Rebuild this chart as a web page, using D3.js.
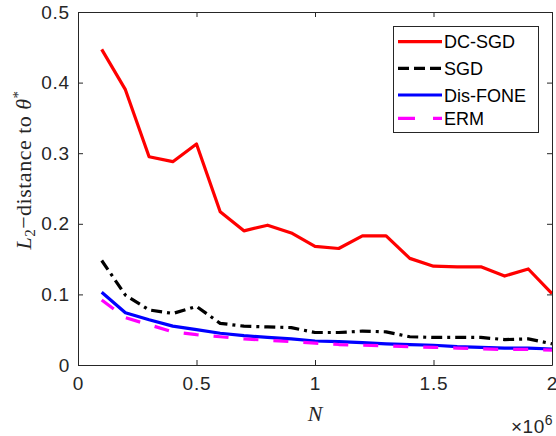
<!DOCTYPE html>
<html>
<head>
<meta charset="utf-8">
<script src="https://cdn.jsdelivr.net/npm/d3@7"></script>
<style>
body { margin: 0; background: #fff; }
svg { display: block; }
</style>
</head>
<body>
<svg id="canvas" width="556" height="436"></svg>
<script>
// sample sizes, in units of 1e6
let nvals = [0.1, 0.2, 0.3, 0.4, 0.5, 0.6, 0.7, 0.8, 0.9, 1.0,
             1.1, 1.2, 1.3, 1.4, 1.5, 1.6, 1.7, 1.8, 1.9, 2.0]

let dcsgd = [0.447, 0.390, 0.295, 0.288, 0.313, 0.217, 0.190, 0.198, 0.187, 0.168,
             0.165, 0.183, 0.183, 0.151, 0.140, 0.139, 0.139, 0.126, 0.136, 0.101]
let sgd = [0.148, 0.099, 0.078, 0.073, 0.083, 0.059, 0.055, 0.054, 0.053, 0.046,
           0.046, 0.048, 0.047, 0.040, 0.039, 0.039, 0.039, 0.036, 0.037, 0.030]
let disfone = [0.103, 0.074, 0.064, 0.055, 0.050, 0.045, 0.0415, 0.039, 0.037, 0.034,
               0.033, 0.0316, 0.030, 0.029, 0.028, 0.026, 0.025, 0.024, 0.024, 0.0227]
let erm = [0.092, 0.067, 0.057, 0.047, 0.043, 0.040, 0.037, 0.035, 0.033, 0.031,
           0.029, 0.028, 0.027, 0.026, 0.025, 0.024, 0.023, 0.022, 0.022, 0.021]

let xticks = [0, 0.5, 1, 1.5, 2]
let yticks = [0, 0.1, 0.2, 0.3, 0.4, 0.5]

let series = [
    {name: 'DC-SGD', vals: dcsgd, color: '#ff0000', dash: null, ldash: null},
    {name: 'SGD', vals: sgd, color: '#000000', dash: '11,5,3,5', ldash: '11,5'},
    {name: 'Dis-FONE', vals: disfone, color: '#0000ff', dash: null, ldash: null},
    {name: 'ERM', vals: erm, color: '#ff00ff', dash: '15,15', ldash: '17,18'}
]

let canvas = d3.select('#canvas')
let pLeft = 78, pRight = 552, pTop = 12, pBottom = 365
let axcol = '#262626'
let tickFont = '"Liberation Sans", Arial, sans-serif'
let mathFont = '"Liberation Serif", "DejaVu Serif", serif'

let x = d3.scaleLinear().domain([0, 2]).range([pLeft, pRight])
let y = d3.scaleLinear().domain([0, 0.5]).range([pBottom, pTop])

let plot = canvas.append('g')
let line = d3.line().x((d, i) => x(nvals[i])).y(d => y(d))

series.forEach(s => {
    plot.append('path')
        .datum(s.vals)
        .attr('d', line)
        .attr('fill', 'none')
        .attr('stroke', s.color)
        .attr('stroke-width', 3.2)
        .attr('stroke-dasharray', s.dash)
        .attr('stroke-linejoin', 'round')
})

// axes: bottom/left with labels, top/right ticks only, all ticks inward
let styleAxis = (g) => {
    g.selectAll('path').attr('stroke', axcol)
    g.selectAll('line').attr('stroke', axcol)
    g.selectAll('text').attr('fill', axcol).style('font-family', tickFont)
        .style('font-size', '19px').style('letter-spacing', '0.8px')
}

canvas.append('g')
    .attr('transform', 'translate(0,' + pBottom + ')')
    .call(d3.axisBottom(x).tickValues(xticks).tickFormat(d3.format('')).tickSizeInner(-5).tickSizeOuter(0).tickPadding(12))
    .call(styleAxis)
canvas.append('g')
    .attr('transform', 'translate(0,' + pTop + ')')
    .call(d3.axisTop(x).tickValues(xticks).tickFormat('').tickSizeInner(-5).tickSizeOuter(0))
    .call(styleAxis)
canvas.append('g')
    .attr('transform', 'translate(' + pLeft + ',0)')
    .call(d3.axisLeft(y).tickValues(yticks).tickFormat(d3.format('')).tickSizeInner(-5).tickSizeOuter(0).tickPadding(8))
    .call(styleAxis)
canvas.append('g')
    .attr('transform', 'translate(' + pRight + ',0)')
    .call(d3.axisRight(y).tickValues(yticks).tickFormat('').tickSizeInner(-5).tickSizeOuter(0))
    .call(styleAxis)

// axis labels
canvas.append('text')
    .attr('x', (pLeft + pRight) / 2).attr('y', 421)
    .attr('text-anchor', 'middle')
    .style('font-family', mathFont).style('font-style', 'italic').style('font-size', '22px')
    .attr('fill', axcol)
    .text('N')

let xl = canvas.append('text')
    .attr('x', 553).attr('y', 433)
    .attr('text-anchor', 'end')
    .style('font-family', tickFont).style('font-size', '19px').style('letter-spacing', '0.5px')
    .attr('fill', axcol)
xl.append('tspan').text('\u00d710')
xl.append('tspan').attr('dy', -8).style('font-size', '14px').text('6')

let yl = canvas.append('text')
    .attr('transform', 'translate(31,170) rotate(-90)')
    .attr('text-anchor', 'middle')
    .style('font-family', mathFont).style('font-size', '22px').style('letter-spacing', '0.5px')
    .attr('fill', axcol)
yl.append('tspan').style('font-style', 'italic').text('L')
yl.append('tspan').attr('dy', 4).style('font-size', '15px').text('2')
yl.append('tspan').attr('dy', -4).text('\u2212distance to ')
yl.append('tspan').style('font-style', 'italic').text('\u03b8')
yl.append('tspan').attr('dy', -8).style('font-size', '15px').text('*')

// legend
let lg = canvas.append('g')
lg.append('rect')
    .attr('x', 393.5).attr('y', 26.5).attr('width', 145).attr('height', 106)
    .attr('fill', '#fff').attr('stroke', axcol).attr('stroke-width', 1)
let ly = [41.7, 68.3, 95, 118.3]
series.forEach((s, i) => {
    lg.append('line')
        .attr('x1', 398).attr('x2', 442)
        .attr('y1', ly[i]).attr('y2', ly[i])
        .attr('stroke', s.color).attr('stroke-width', 3.2)
        .attr('stroke-dasharray', s.ldash)
    lg.append('text')
        .attr('x', 444).attr('y', ly[i] + 6.5)
        .style('font-family', tickFont).style('font-size', '18px')
        .attr('fill', '#000')
        .text(s.name)
})
</script>
</body>
</html>
